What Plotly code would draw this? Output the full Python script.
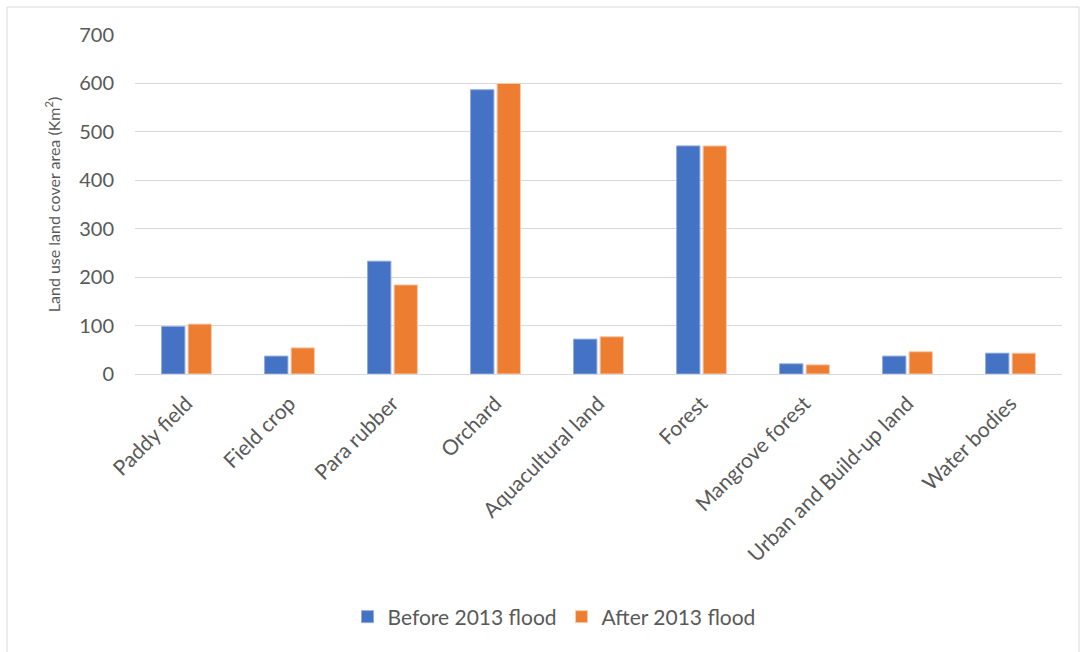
import plotly.graph_objects as go

categories = ["Paddy field", "Field crop", "Para rubber", "Orchard", "Aquacultural land",
              "Forest", "Mangrove forest", "Urban and Build-up land", "Water bodies"]
before_2013 = [98, 37, 233, 587, 72, 471, 21, 37, 43]
after_2013 = [103, 54, 184, 600, 77, 471, 19, 46, 43]
y_ticks = [0, 100, 200, 300, 400, 500, 600, 700]

W, H = 1086, 652
L, R, T, B = 135, 24, 35, 278
pw, ph = W - L - R, H - T - B

def px_x(x):
    return (x - L) / pw

def px_y(y):
    return (H - B - y) / ph

font_family = "Lato, 'Liberation Sans', sans-serif"
txt = "#595959"

fig = go.Figure()
fig.add_trace(go.Bar(name="Before 2013 flood", x=categories, y=before_2013,
                     marker=dict(color="#4472C4", line=dict(color="#8FAADC", width=1))))
fig.add_trace(go.Bar(name="After 2013 flood", x=categories, y=after_2013,
                     marker=dict(color="#ED7D31", line=dict(color="#F8CBAD", width=1))))

fig.update_layout(
    width=W, height=H,
    margin=dict(l=L, r=R, t=T, b=B),
    paper_bgcolor="white", plot_bgcolor="white",
    font=dict(family=font_family, color=txt),
    barmode="group", bargap=0.485, bargroupgap=0.12,
    showlegend=True,
    legend=dict(orientation="h", x=px_x(554), xanchor="center", y=px_y(617), yanchor="middle",
                font=dict(size=21, color=txt), itemwidth=30, traceorder="normal"),
    shapes=[dict(type="rect", xref="paper", yref="paper",
                 x0=px_x(7), x1=px_x(1079), y0=px_y(660), y1=px_y(7),
                 line=dict(color="#D9D9D9", width=1), fillcolor="rgba(0,0,0,0)", layer="below")],
)
fig.update_xaxes(tickangle=-45, tickfont=dict(size=21, color=txt), showgrid=False,
                 showline=True, linecolor="#D9D9D9", linewidth=1,
                 ticks="outside", ticklen=8, tickcolor="rgba(0,0,0,0)")
fig.update_yaxes(range=[0, 700], tickvals=y_ticks, tickfont=dict(size=20, color=txt),
                 showgrid=True, gridcolor="#D9D9D9", gridwidth=1, zeroline=False,
                 ticks="", ticklen=0, showline=False, ticklabelstandoff=20,
                 title=dict(text="Land use land cover area (Km<sup>2</sup>)",
                            font=dict(size=16, color=txt), standoff=14))

fig.write_html("out.html")
